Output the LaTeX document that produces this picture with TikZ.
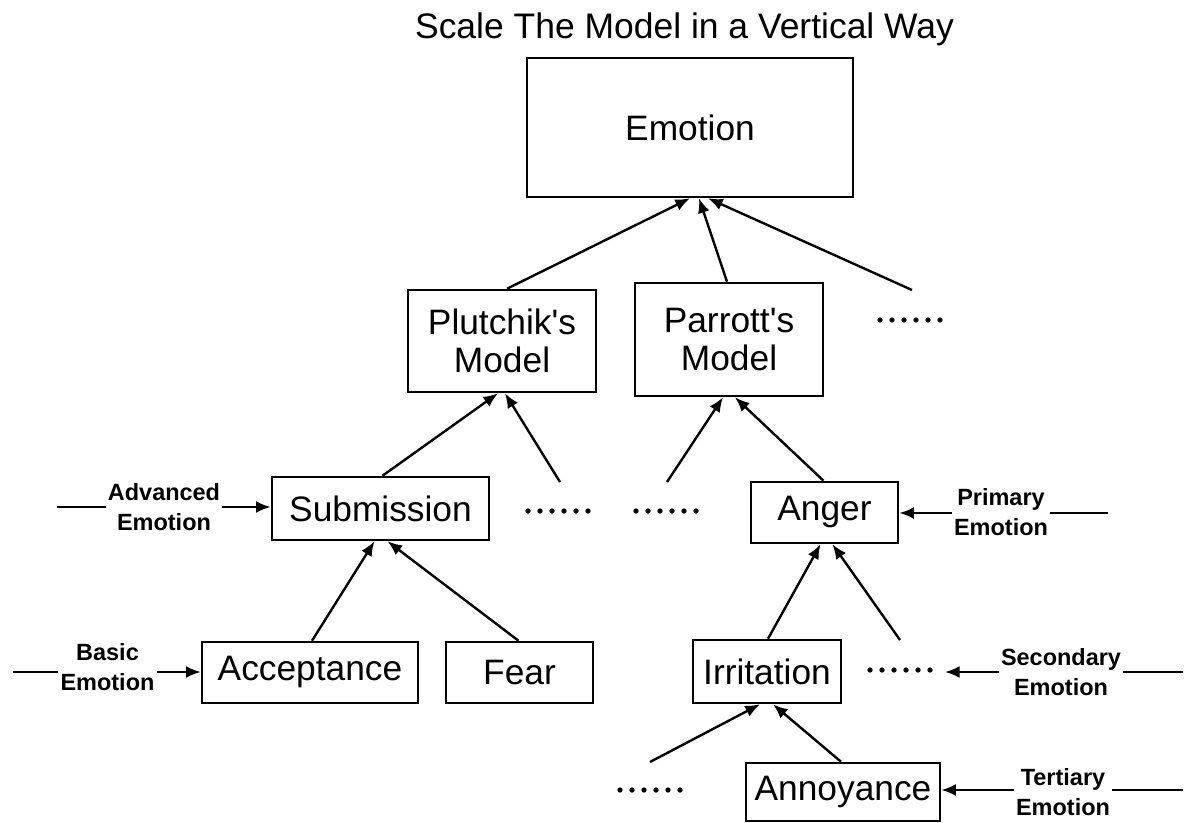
\documentclass[tikz,border=0pt]{standalone}
\usepackage{fontspec}
\setmainfont{Liberation Sans}
\usetikzlibrary{arrows.meta,calc}
% one drawing unit is one pixel of the final image
\newcommand{\pxu}{0.75pt}
\begin{document}
\begin{tikzpicture}[x=0.75pt,y=-0.75pt,
  box/.style={draw, line width=1.9pt, inner sep=0pt, align=center,
              font=\fontsize{26.5}{28}\selectfont},
  tag/.style={inner sep=1.5pt, align=center,
              font=\bfseries\fontsize{17.6}{22.5}\selectfont},
  link/.style={line width=1.8pt},
  arr/.style={link, -{Latex[length=11pt,width=9pt]}},
  ellipsisdot/.style={fill=black}
]
\useasboundingbox (0,0) rectangle (1185,823);

% title
\node[anchor=base, font=\fontsize{26.6}{28}\selectfont] (title) at (684.5,39)
  {Scale The Model in a Vertical Way};

% boxes
\node[box, minimum width=326*\pxu, minimum height=139*\pxu] (emotion) at (690,127.5) {Emotion};
\node[box, minimum width=188*\pxu, minimum height=102*\pxu] (plutchik) at (502,341) {Plutchik\textquotesingle s\\Model};
\node[box, minimum width=188*\pxu, minimum height=113*\pxu] (parrott) at (729,339.5) {Parrott\textquotesingle s\\Model};
\node[box, minimum width=217*\pxu, minimum height=63*\pxu] (submission) at (380.5,508.5) {Submission};
\node[box, minimum width=147*\pxu, minimum height=61*\pxu] (anger) at (824.5,512.5) {Anger};
\node[box, minimum width=216*\pxu, minimum height=61*\pxu] (acceptance) at (310,672.5) {Acceptance};
\node[box, minimum width=147*\pxu, minimum height=61*\pxu] (fear) at (519.5,672.5) {Fear};
\node[box, minimum width=148*\pxu, minimum height=63*\pxu] (irritation) at (767,671.5) {Irritation};
\node[box, minimum width=194*\pxu, minimum height=58*\pxu] (annoyance) at (843,792) {Annoyance};

% level labels
\node[tag] (advanced) at (164,507.5) {Advanced\\Emotion};
\node[tag] (basic) at (107.5,667.5) {Basic\\Emotion};
\node[tag] (primary) at (1001,512) {Primary\\Emotion};
\node[tag] (secondary) at (1061,672) {Secondary\\Emotion};
\node[tag] (tertiary) at (1063,792) {Tertiary\\Emotion};

% free ends of lines
\coordinate (advL) at (57,507);
\coordinate (basicL) at (13,672);
\coordinate (primR) at (1108,513);
\coordinate (secR) at (1183,672);
\coordinate (terR) at (1183,790);
\coordinate (secTip) at (945,672);
\coordinate (moreTop) at (912,290);
\coordinate (moreL) at (560,482);
\coordinate (moreM) at (667,482);
\coordinate (moreSec) at (900,640);
\coordinate (moreTer) at (650,762);

% rows of dots standing for further items
\foreach \sx/\sy in {880/320, 528/511, 636/511, 870/670, 620/790}
  \foreach \k in {0,...,5}
    \fill[ellipsisdot] (\sx+12*\k,\sy) circle[radius=2pt];

% hierarchy arrows
\draw[arr] ($(plutchik.north)+(5,0)$) -- (emotion.south);
\draw[arr] ($(parrott.north)+(-2,0)$) -- ($(emotion.south)+(9,0)$);
\draw[arr] (moreTop) -- ($(emotion.south)+(18,0)$);

\draw[arr] ($(submission.north)+(2,0)$) -- ($(plutchik.south)+(-4,0)$);
\draw[arr] (moreL) -- ($(plutchik.south)+(3,0)$);
\draw[arr] (moreM) -- ($(parrott.south)+(-6,0)$);
\draw[arr] ($(anger.north)+(-1,0)$) -- ($(parrott.south)+(6,0)$);

\draw[arr] ($(acceptance.north)+(2,0)$) -- ($(submission.south)+(-6,0)$);
\draw[arr] ($(fear.north)+(-1,0)$) -- ($(submission.south)+(7,0)$);
\draw[arr] ($(irritation.north)+(1,0)$) -- ($(anger.south)+(-4,0)$);
\draw[arr] (moreSec) -- ($(anger.south)+(8,0)$);

\draw[arr] (moreTer) -- ($(irritation.south)+(-7,0)$);
\draw[arr] ($(annoyance.north)+(-2,0)$) -- ($(irritation.south)+(6,0)$);

% level label pointers
\draw[link] (advL) -- (advL -| advanced.west);
\draw[arr] (advanced.east |- advL) -- (submission.west |- advL);
\draw[link] (basicL) -- (basicL -| basic.west);
\draw[arr] (basic.east |- basicL) -- (acceptance.west |- basicL);
\draw[arr] (primary.west |- primR) -- (anger.east |- primR);
\draw[link] (primary.east |- primR) -- (primR);
\draw[arr] (secondary.west |- secR) -- (secTip);
\draw[link] (secondary.east |- secR) -- (secR);
\draw[arr] (tertiary.west |- terR) -- (annoyance.east |- terR);
\draw[link] (tertiary.east |- terR) -- (terR);
\end{tikzpicture}
\end{document}
